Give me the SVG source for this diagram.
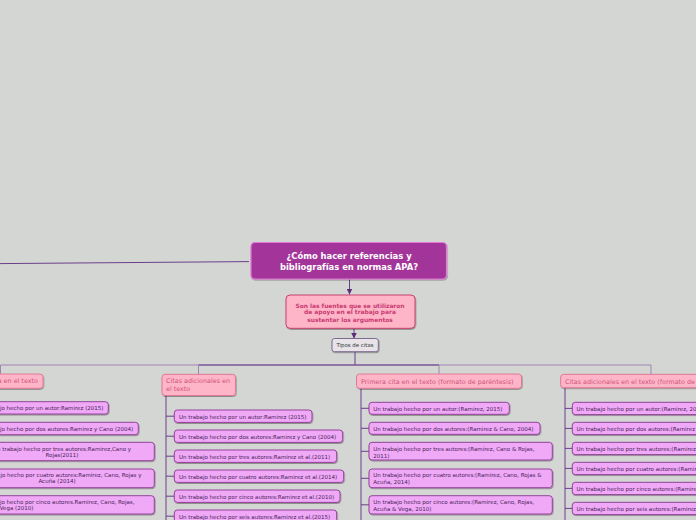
<svg xmlns="http://www.w3.org/2000/svg" width="696" height="520" viewBox="0 0 696 520">
<defs>
<marker id="arr" viewBox="0 0 6 6" refX="6" refY="3" markerWidth="6" markerHeight="6" markerUnits="userSpaceOnUse" orient="auto">
<path d="M0,0 L6,3 L0,6 Z" fill="#5a2d7a"/>
</marker>
<filter id="sh" x="-10%" y="-20%" width="120%" height="150%">
<feDropShadow dx="0.6" dy="1" stdDeviation="0.5" flood-color="#000" flood-opacity="0.35"/>
</filter>
</defs>
<style>
text{font-family:"DejaVu Sans","Verdana",sans-serif}
.conn{stroke:#6b3f8c;stroke-width:1;fill:none}
.bar{stroke:#a183b2;stroke-width:1;fill:none}
.main rect{fill:#a3359a;stroke:#e27ad6;stroke-width:1.2;filter:url(#sh)}
.main text{fill:#fff;font-size:8.4px;font-weight:bold;text-anchor:middle}
.desc rect{fill:#ffb5c8;stroke:#c8406e;stroke-width:1;filter:url(#sh)}
.desc text{fill:#c83a70;font-size:5.9px;font-weight:bold;text-anchor:middle}
.tipo rect{fill:#e7e3e9;stroke:#7e6a90;stroke-width:1;filter:url(#sh)}
.tipo text{fill:#333;font-size:5.4px;text-anchor:middle}
.sub rect{fill:#ffb5c8;stroke:#e07a96;stroke-width:1;filter:url(#sh)}
.sub text{fill:#d0527c;font-size:6.4px}
.item rect{fill:#efa9f6;stroke:#93449b;stroke-width:1;filter:url(#sh)}
.item text{fill:#4a1f5c;font-size:5.5px}
.c{text-anchor:middle}
</style>
<rect x="0" y="0" width="696" height="520" fill="#d4d6d3"/>

<g id="connectors">
<line class="conn" x1="0" y1="263.6" x2="249" y2="261.6"/>
<line class="conn" x1="349.5" y1="279.5" x2="349.5" y2="294.5" marker-end="url(#arr)"/>
<line class="conn" x1="354" y1="328.5" x2="354" y2="338.5" marker-end="url(#arr)"/>
<line class="conn" x1="355" y1="352" x2="355" y2="365"/>
<polyline class="bar" points="0.5,374 0.5,365 651,365 651,374.5"/>
<line class="conn" x1="198.5" y1="365" x2="439" y2="365"/>
<line class="bar" x1="198.5" y1="365" x2="198.5" y2="374"/>
<line class="bar" x1="439" y1="365" x2="439" y2="374"/>
<!-- column 1 -->
<line class="conn" x1="-36" y1="388" x2="-36" y2="520"/>
<!-- column 2 -->
<line class="conn" x1="166" y1="395.5" x2="166" y2="520"/>
<line class="conn" x1="166" y1="416.2" x2="174.3" y2="416.2"/>
<line class="conn" x1="166" y1="436.2" x2="174.3" y2="436.2"/>
<line class="conn" x1="166" y1="456.2" x2="174.3" y2="456.2"/>
<line class="conn" x1="166" y1="476.2" x2="174.3" y2="476.2"/>
<line class="conn" x1="166" y1="496.2" x2="174.3" y2="496.2"/>
<line class="conn" x1="166" y1="516.2" x2="174.3" y2="516.2"/>
<!-- column 3 -->
<line class="conn" x1="361" y1="388.5" x2="361" y2="520"/>
<line class="conn" x1="361" y1="408.3" x2="369" y2="408.3"/>
<line class="conn" x1="361" y1="428.3" x2="369" y2="428.3"/>
<line class="conn" x1="361" y1="451.3" x2="369" y2="451.3"/>
<line class="conn" x1="361" y1="478.3" x2="369" y2="478.3"/>
<line class="conn" x1="361" y1="504.8" x2="369" y2="504.8"/>
<!-- column 4 -->
<line class="conn" x1="565" y1="388" x2="565" y2="520"/>
<line class="conn" x1="565" y1="408.4" x2="572.3" y2="408.4"/>
<line class="conn" x1="565" y1="428.4" x2="572.3" y2="428.4"/>
<line class="conn" x1="565" y1="448.4" x2="572.3" y2="448.4"/>
<line class="conn" x1="565" y1="468.4" x2="572.3" y2="468.4"/>
<line class="conn" x1="565" y1="488.4" x2="572.3" y2="488.4"/>
<line class="conn" x1="565" y1="508.4" x2="572.3" y2="508.4"/>
</g>

<g id="main" class="main">
<rect x="251" y="242.5" width="195.5" height="36.5" rx="4"/>
<text x="349" y="259">¿Cómo hacer referencias y</text>
<text x="349" y="270.3">bibliografías en normas APA?</text>
</g>

<g id="descripcion" class="desc">
<rect x="286" y="295" width="129" height="33.3" rx="4"/>
<text x="350" y="307.6">Son las fuentes que se utilizaron</text>
<text x="350" y="314.4">de apoyo en el trabajo para</text>
<text x="350" y="321.8">sustentar los argumentos</text>
</g>

<g id="tipos" class="tipo">
<rect x="332" y="338.5" width="46.3" height="13.2" rx="2.5"/>
<text x="355" y="347">Tipos de citas</text>
</g>

<!-- column 1 -->
<g id="col1" class="sub">
<rect x="-41" y="374" width="84" height="14.3" rx="3"/>
<text x="-37" y="383.3">Primera cita en el texto</text>
</g>
<g id="c1i1" class="item"><rect x="-28" y="401.7" width="136.3" height="12.3" rx="3"/><text x="-24" y="410">Un trabajo hecho por un autor:Ramirez (2015)</text></g>
<g id="c1i2" class="item"><rect x="-28" y="422.3" width="166.3" height="12.4" rx="3"/><text x="-24" y="430.6">Un trabajo hecho por dos autores:Ramirez y Cano (2004)</text></g>
<g id="c1i3" class="item"><rect x="-28" y="442.3" width="182.3" height="18.4" rx="3"/><text class="c" x="62" y="451.2">Un trabajo hecho por tres autores:Ramirez,Cano y</text><text class="c" x="62" y="457.3">Rojas(2011)</text></g>
<g id="c1i4" class="item"><rect x="-28" y="469" width="182.3" height="18.7" rx="3"/><text class="c" x="59" y="477">Un trabajo hecho por cuatro autores:Ramirez, Cano, Rojas y</text><text class="c" x="57" y="483.4">Acuña (2014)</text></g>
<g id="c1i5" class="item"><rect x="-28" y="495.7" width="182.3" height="18.3" rx="3"/><text x="-24" y="503.7">Un trabajo hecho por cinco autores.Ramirez, Cano, Rojas,</text><text x="-24" y="510">Acuña y Vega (2010)</text></g>

<!-- column 2 -->
<g id="col2" class="sub">
<rect x="162" y="374.3" width="73.5" height="21.2" rx="3"/>
<text x="166" y="383.2">Citas adicionales en</text>
<text x="166" y="391.2">el texto</text>
</g>
<g id="c2i1" class="item"><rect x="174.3" y="410" width="137.7" height="12.4" rx="3"/><text x="179" y="418.5">Un trabajo hecho por un autor:Ramirez (2015)</text></g>
<g id="c2i2" class="item"><rect x="174.3" y="430" width="168.4" height="12.4" rx="3"/><text x="179" y="438.5">Un trabajo hecho por dos autores:Ramirez y Cano (2004)</text></g>
<g id="c2i3" class="item"><rect x="174.3" y="450" width="162.4" height="12.4" rx="3"/><text x="179" y="458.5">Un trabajo hecho por tres autores:Ramirez et al.(2011)</text></g>
<g id="c2i4" class="item"><rect x="174.3" y="470" width="169.4" height="12.4" rx="3"/><text x="179" y="478.5">Un trabajo hecho por cuatro autores:Ramirez et al.(2014)</text></g>
<g id="c2i5" class="item"><rect x="174.3" y="490" width="165.7" height="12.4" rx="3"/><text x="179" y="498.5">Un trabajo hecho por cinco autores:Ramirez et al.(2010)</text></g>
<g id="c2i6" class="item"><rect x="174.3" y="510" width="162.4" height="12.4" rx="3"/><text x="179" y="518.5">Un trabajo hecho por seis autores:Ramirez et al.(2015)</text></g>

<!-- column 3 -->
<g id="col3" class="sub">
<rect x="356.5" y="374" width="165" height="14.3" rx="3"/>
<text x="361" y="383.5">Primera cita en el texto (formato de paréntesis)</text>
</g>
<g id="c3i1" class="item"><rect x="369" y="402.3" width="140.3" height="12" rx="3"/><text x="373.3" y="410.5">Un trabajo hecho por un autor:(Ramirez, 2015)</text></g>
<g id="c3i2" class="item"><rect x="369" y="422.3" width="171" height="12" rx="3"/><text x="373.3" y="430.5">Un trabajo hecho por dos autores:(Ramirez &amp; Cano, 2004)</text></g>
<g id="c3i3" class="item"><rect x="369" y="442.3" width="183.3" height="17.7" rx="3"/><text x="373.3" y="451.3">Un trabajo hecho por tres autores:(Ramírez, Cano &amp; Rojas,</text><text x="373.3" y="457.7">2011)</text></g>
<g id="c3i4" class="item"><rect x="369" y="469" width="183.3" height="18.7" rx="3"/><text x="373.3" y="477">Un trabajo hecho por cuatro autores:(Ramirez, Cano, Rojas &amp;</text><text x="373.3" y="483.5">Acuña, 2014)</text></g>
<g id="c3i5" class="item"><rect x="369" y="495.7" width="183.3" height="18.3" rx="3"/><text x="373.3" y="504.3">Un trabajo hecho por cinco autores:(Ramirez, Cano, Rojas,</text><text x="373.3" y="510.5">Acuña &amp; Vega, 2010)</text></g>

<!-- column 4 -->
<g id="col4" class="sub">
<rect x="560.7" y="374.3" width="200" height="13.4" rx="3"/>
<text x="565" y="383.5">Citas adicionales en el texto (formato de paréntesis)</text>
</g>
<g id="c4i1" class="item"><rect x="572.3" y="402.3" width="200" height="12.3" rx="3"/><text x="576.5" y="410.6">Un trabajo hecho por un autor:(Ramirez, 2015)</text></g>
<g id="c4i2" class="item"><rect x="572.3" y="422.3" width="200" height="12.3" rx="3"/><text x="576.5" y="430.6">Un trabajo hecho por dos autores:(Ramirez &amp; Cano, 2004)</text></g>
<g id="c4i3" class="item"><rect x="572.3" y="442.3" width="200" height="12.3" rx="3"/><text x="576.5" y="450.6">Un trabajo hecho por tres autores:(Ramirez et al., 2011)</text></g>
<g id="c4i4" class="item"><rect x="572.3" y="462.3" width="200" height="12.3" rx="3"/><text x="576.5" y="470.6">Un trabajo hecho por cuatro autores:(Ramirez et al., 2014)</text></g>
<g id="c4i5" class="item"><rect x="572.3" y="482.3" width="200" height="12.3" rx="3"/><text x="576.5" y="490.6">Un trabajo hecho por cinco autores:(Ramirez et al., 2010)</text></g>
<g id="c4i6" class="item"><rect x="572.3" y="502.3" width="200" height="12.3" rx="3"/><text x="576.5" y="510.6">Un trabajo hecho por seis autores:(Ramirez et al., 2015)</text></g>
</svg>
